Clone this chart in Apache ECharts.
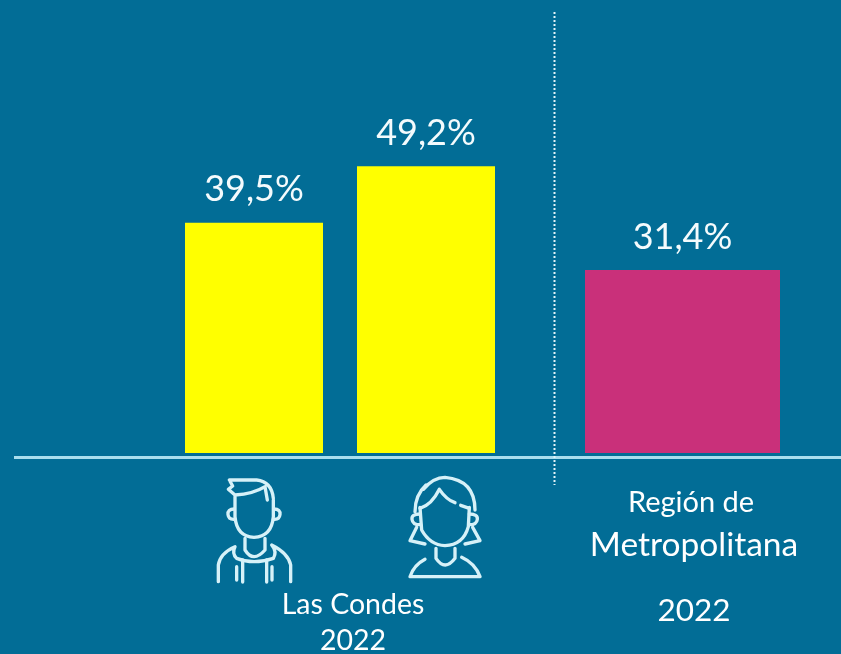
<!DOCTYPE html>
<html><head><meta charset="utf-8">
<style>html,body{margin:0;padding:0;background:#026d96}#c{width:841px;height:654px}</style>
<script src="https://cdn.jsdelivr.net/npm/echarts@6/dist/echarts.min.js"></script>
</head><body><div id="c"></div>
<script>
const comunaCategories = ['Hombres', 'Mujeres'];
const comunaValues = [39.5, 49.2];
const regionCategories = ['Región Metropolitana'];
const regionValues = [31.4];
const comunaLabel = ['Las Condes', '2022'];
const regionLabel = ['Región de', 'Metropolitana', '2022'];

const FONT = 'Lato, "Open Sans", sans-serif';
const BG = '#026d96', INK = '#ffffff', ICON = '#d6f1f8';
const fmt = p => p.value.toFixed(1).replace('.', ',') + '%';
const barLabel = {show: true, position: 'top', distance: 15, formatter: fmt, color: '#f4fbfd', fontFamily: FONT, fontSize: 36};

const iconStyle = {fill: 'none', stroke: ICON, lineWidth: 10, lineCap: 'round', lineJoin: 'round'};
const iconPaths = [
  'M118 90 L200 90 Q245 95 250 145 M118 90 L128 108 L115 118 L135 135 Q190 132 225 110 L232 150',
  'M135 140 L135 200 Q140 260 192 262 Q245 260 250 200 L250 150',
  'M133 177 Q112 178 114 194 Q116 210 135 208 M252 177 Q272 178 270 194 Q268 210 250 208',
  'M165 265 L165 300 Q190 340 225 300 L225 265',
  'M85 395 L85 345 Q90 310 135 290 Q125 310 140 325 Q190 345 250 325 Q262 305 245 285 Q295 310 302 345 L302 395',
  'M158 330 L158 396 M230 330 L230 396 M140 350 L140 390 M246 350 L246 390',
  'M700 118 Q730 82 765 82 Q855 90 855 180 M708 105 Q675 135 675 185',
  'M690 172 L695 240 Q720 285 765 287 Q820 285 835 230 L838 172',
  'M690 175 Q725 165 748 118 Q770 150 795 158 M812 166 L838 175',
  'M690 192 Q664 192 666 208 Q668 225 692 224 M838 192 Q864 192 862 208 Q860 225 836 224',
  'M680 232 L660 272 L705 282 M848 232 L870 272 L825 282',
  'M738 295 L738 325 Q765 365 795 325 L795 295',
  'M705 328 Q672 345 660 380 L870 380 Q855 340 815 322'
];
const icons = iconPaths.map((d, i) => {
  const name = 'iconPart' + i;
  echarts.graphic.registerShape(name, echarts.graphic.extendPath(d, {}));
  return {type: name, style: iconStyle};
});

const txt = (t, x, y, size) => ({type: 'text', x, y, style: {text: t, fill: INK, font: size + 'px ' + FONT, textAlign: 'center', textVerticalAlign: 'middle'}});

const chart = echarts.init(document.getElementById('c'), null, {renderer: 'canvas'});
chart.setOption({
  backgroundColor: BG,
  animation: false,
  grid: [
    {left: 168, width: 344, top: 45, height: 408},
    {left: 555, width: 255, top: 45, height: 408}
  ],
  xAxis: [
    {gridIndex: 0, type: 'category', data: comunaCategories, axisLine: {show: false}, axisTick: {show: false}, axisLabel: {show: false}},
    {gridIndex: 1, type: 'category', data: regionCategories, axisLine: {show: false}, axisTick: {show: false}, axisLabel: {show: false}}
  ],
  yAxis: [
    {gridIndex: 0, type: 'value', min: 0, max: 70, show: false},
    {gridIndex: 1, type: 'value', min: 0, max: 70, show: false}
  ],
  series: [
    {type: 'bar', xAxisIndex: 0, yAxisIndex: 0, data: comunaValues, barWidth: 138, itemStyle: {color: '#ffff00'}, label: barLabel},
    {type: 'bar', xAxisIndex: 1, yAxisIndex: 1, data: regionValues, barWidth: 195, itemStyle: {color: '#c9307a'}, label: barLabel}
  ],
  graphic: [
    {type: 'line', shape: {x1: 14, y1: 457.5, x2: 841, y2: 457.5}, style: {stroke: '#a9deee', lineWidth: 3}},
    {type: 'line', shape: {x1: 554.5, y1: 12, x2: 554.5, y2: 485}, style: {stroke: '#e4f4f8', lineWidth: 2, lineDash: [2, 2]}},
    {type: 'group', x: 190, y: 450, scaleX: 1 / 3, scaleY: 1 / 3, children: icons},
    txt(comunaLabel[0], 353, 605, 28.5),
    txt(comunaLabel[1], 353, 641, 28.5),
    txt(regionLabel[0], 691, 503, 29),
    txt(regionLabel[1], 694, 545, 33.5),
    txt(regionLabel[2], 694, 611, 31.5)
  ]
});
</script></body></html>
